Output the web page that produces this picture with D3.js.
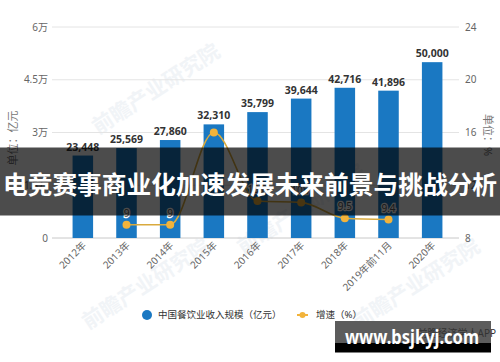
<!DOCTYPE html>
<html>
<head>
<meta charset="utf-8">
<title>餐饮业收入规模</title>
<script src="https://d3js.org/d3.v7.min.js"></script>
<style>
  body { margin: 0; background: #fff; }
  text { font-family: "Noto Sans", "Noto Sans CJK SC", sans-serif; }
</style>
</head>
<body>
<script>
  var width = 500,
      height = 362;

  // data
  var years = ["2012年", "2013年", "2014年", "2015年", "2016年", "2017年", "2018年", "2019年前11月", "2020年"];
  var revenue = [23448, 25569, 27860, 32310, 35799, 39644, 42716, 41896, 50000];
  var growth = [null, 9, 9, 16.0, 10.8, 10.7, 9.5, 9.4, null];
  var leftTicks = [0, 15000, 30000, 45000, 60000];
  var leftTickLabels = ["0", "1.5万", "3万", "4.5万", "6万"];
  var rightTicks = [8, 12, 16, 20, 24];
  var title = "电竞赛事商业化加速发展未来前景与挑战分析";

  var svg = d3.select("body")
              .append("svg")
              .attr("width", width)
              .attr("height", height);

  var x = d3.scaleBand()
            .domain(years)
            .range([61, 454])
            .paddingInner(0.53)
            .paddingOuter(0.265);

  var yL = d3.scaleLinear().domain([0, 60000]).range([238, 27]);
  var yR = d3.scaleLinear().domain([8, 24]).range([238, 27]);

  // faint watermarks
  var marks = [[160, 95], [305, 215], [420, 290], [150, 290]];
  svg.append("g").selectAll("text")
     .data(marks)
     .enter()
     .append("text")
     .attr("transform", function(d) { return "translate(" + d[0] + "," + d[1] + ") rotate(-33)"; })
     .attr("text-anchor", "middle")
     .attr("font-size", 21)
     .attr("font-weight", "bold")
     .attr("fill", "#f1f4f7")
     .text("前瞻产业研究院");

  // gridlines
  svg.append("g").selectAll("line")
     .data(leftTicks)
     .enter()
     .append("line")
     .attr("x1", 52).attr("x2", 459)
     .attr("y1", function(d) { return yL(d); })
     .attr("y2", function(d) { return yL(d); })
     .attr("stroke", function(d) { return d === 0 ? "#c8c8c8" : "#e4e4e4"; })
     .attr("stroke-width", 1);

  // left ticks
  svg.append("g").selectAll("text")
     .data(leftTicks)
     .enter()
     .append("text")
     .attr("x", 48)
     .attr("y", function(d) { return yL(d); })
     .attr("dy", "0.35em")
     .attr("text-anchor", "end")
     .attr("font-size", 10)
     .attr("fill", "#666")
     .text(function(d, i) { return leftTickLabels[i]; });

  // right ticks
  svg.append("g").selectAll("text")
     .data(rightTicks)
     .enter()
     .append("text")
     .attr("x", 465)
     .attr("y", function(d) { return yR(d); })
     .attr("dy", "0.35em")
     .attr("font-size", 10)
     .attr("fill", "#666")
     .text(function(d) { return d; });

  // axis titles
  svg.append("text")
     .attr("transform", "translate(13,138) rotate(-90)")
     .attr("text-anchor", "middle")
     .attr("dy", "0.35em")
     .attr("font-size", 11)
     .attr("fill", "#777")
     .text("单位：亿元");
  svg.append("text")
     .attr("transform", "translate(488,135) rotate(90)")
     .attr("text-anchor", "middle")
     .attr("dy", "0.35em")
     .attr("font-size", 11)
     .attr("fill", "#777")
     .text("单位：%");

  // bars
  svg.append("g").selectAll("rect")
     .data(revenue)
     .enter()
     .append("rect")
     .attr("x", function(d, i) { return x(years[i]); })
     .attr("width", x.bandwidth())
     .attr("y", function(d) { return yL(d); })
     .attr("height", function(d) { return yL(0) - yL(d); })
     .attr("fill", "#1a78c2");

  svg.append("g").selectAll("text")
     .data(revenue)
     .enter()
     .append("text")
     .attr("x", function(d, i) { return x(years[i]) + x.bandwidth() / 2; })
     .attr("y", function(d) { return yL(d) - 5; })
     .attr("text-anchor", "middle")
     .attr("font-size", 10.5)
     .attr("font-weight", "bold")
     .attr("fill", "#333")
     .text(function(d) { return d3.format(",")(d); });

  // x labels
  svg.append("g").selectAll("text")
     .data(years)
     .enter()
     .append("text")
     .attr("transform", function(d) {
        return "translate(" + (x(d) + x.bandwidth() / 2 + 4) + ",246) rotate(-45)";
      })
     .attr("text-anchor", "end")
     .attr("font-size", 10)
     .attr("fill", "#666")
     .text(function(d) { return d; });

  // growth line
  var pts = growth.map(function(g, i) { return { cat: years[i], v: g }; })
                  .filter(function(d) { return d.v !== null; });

  var line = d3.line()
               .x(function(d) { return x(d.cat) + x.bandwidth() / 2; })
               .y(function(d) { return yR(d.v); })
               .curve(d3.curveMonotoneX);

  svg.append("path")
     .datum(pts)
     .attr("d", line)
     .attr("fill", "none")
     .attr("stroke", "#d9aa3e")
     .attr("stroke-width", 1.6);

  svg.append("g").selectAll("circle")
     .data(pts)
     .enter()
     .append("circle")
     .attr("cx", function(d) { return x(d.cat) + x.bandwidth() / 2; })
     .attr("cy", function(d) { return yR(d.v); })
     .attr("r", 4)
     .attr("fill", "#f2b33b");

  // point labels (2015 one is not shown in the picture)
  svg.append("g").selectAll("text")
     .data(pts.filter(function(d) { return d.cat !== "2015年"; }))
     .enter()
     .append("text")
     .attr("x", function(d) { return x(d.cat) + x.bandwidth() / 2; })
     .attr("y", function(d) { return yR(d.v) - 8; })
     .attr("text-anchor", "middle")
     .attr("font-size", 10)
     .attr("fill", "#555")
     .attr("stroke", "#fff")
     .attr("stroke-width", 2.5)
     .attr("paint-order", "stroke")
     .text(function(d) { return d.v; });

  // legend
  var lg = svg.append("g").attr("font-size", 9.5).attr("fill", "#333");
  lg.append("circle").attr("cx", 147).attr("cy", 315).attr("r", 5).attr("fill", "#1a78c2");
  lg.append("text").attr("x", 158).attr("y", 315).attr("dy", "0.35em").text("中国餐饮业收入规模（亿元）");
  lg.append("line").attr("x1", 297).attr("x2", 308).attr("y1", 315).attr("y2", 315)
    .attr("stroke", "#f2b33b").attr("stroke-width", 2);
  lg.append("circle").attr("cx", 302.5).attr("cy", 315).attr("r", 3).attr("fill", "#f2b33b");
  lg.append("text").attr("x", 316).attr("y", 315).attr("dy", "0.35em").text("增速（%）");

  // title banner over the chart
  svg.append("rect")
     .attr("x", 0).attr("y", 147.5)
     .attr("width", width).attr("height", 68)
     .attr("fill", "rgba(0,0,0,0.7)");
  svg.append("text")
     .attr("x", 250).attr("y", 185)
     .attr("dy", "0.35em")
     .attr("text-anchor", "middle")
     .attr("font-size", 24.5)
     .attr("font-weight", "bold")
     .attr("fill", "#fff")
     .attr("textLength", 494)
     .attr("lengthAdjust", "spacingAndGlyphs")
     .text(title);

  // site stamp, bottom right
  svg.append("rect").attr("x", 335).attr("y", 321).attr("width", 156).attr("height", 22).attr("fill", "#5c5c5c");
  svg.append("rect").attr("x", 335).attr("y", 343).attr("width", 156).attr("height", 9.5).attr("fill", "#000");
  svg.append("text")
     .attr("x", 496).attr("y", 333)
     .attr("dy", "0.35em")
     .attr("text-anchor", "end")
     .attr("font-size", 10)
     .attr("fill", "#333")
     .text("前瞻经济学人APP");
  svg.append("text")
     .attr("x", 412).attr("y", 337)
     .attr("dy", "0.35em")
     .attr("text-anchor", "middle")
     .attr("font-size", 19)
     .attr("font-weight", "bold")
     .attr("fill", "#fff")
     .attr("textLength", 134)
     .attr("lengthAdjust", "spacingAndGlyphs")
     .text("www.bsjkyj.com");
</script>
</body>
</html>
